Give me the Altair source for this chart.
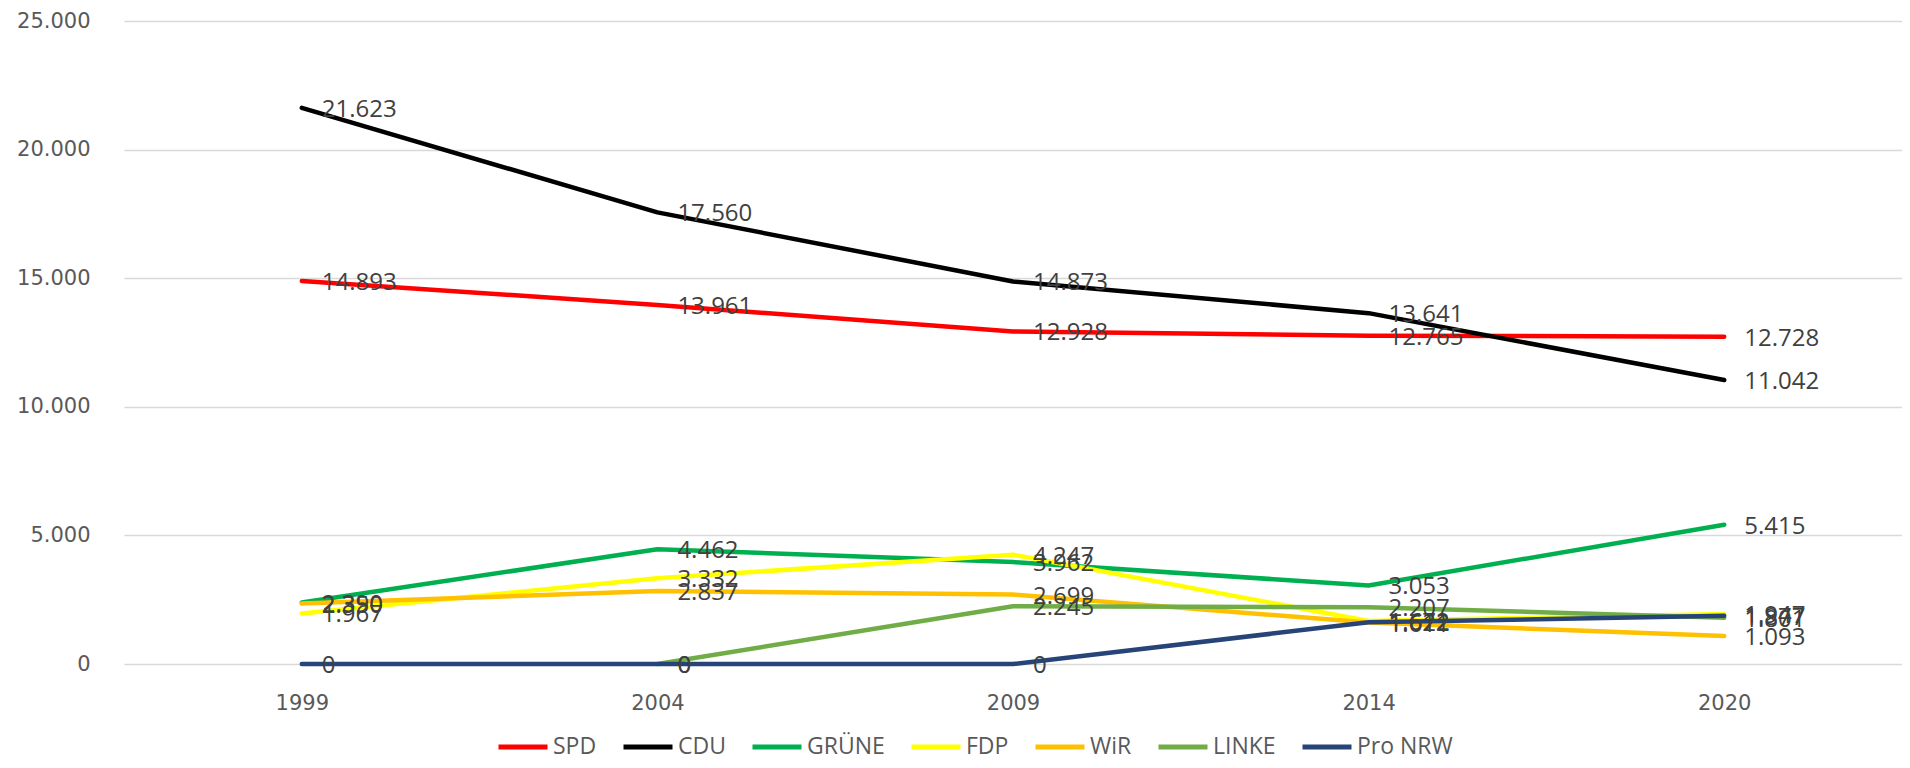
import altair as alt
import pandas as pd

years = ["1999", "2004", "2009", "2014", "2020"]
parties = ["SPD", "CDU", "GRÜNE", "FDP", "WiR", "LINKE", "Pro NRW"]
colors = ["#FF0000", "#000000", "#00B050", "#FFFF00", "#FFC000", "#70AD47", "#264478"]

spd = [14893, 13961, 12928, 12765, 12728]
cdu = [21623, 17560, 14873, 13641, 11042]
gruene = [2390, 4462, 3962, 3053, 5415]
fdp = [1967, 3332, 4247, 1672, 1947]
wir = [2350, 2837, 2699, 1611, 1093]
linke = [None, 0, 2245, 2207, 1801]
pro_nrw = [0, 0, 0, 1622, 1877]

y_ticks = [0, 5000, 10000, 15000, 20000, 25000]

series = {
    "SPD": spd, "CDU": cdu, "GRÜNE": gruene, "FDP": fdp,
    "WiR": wir, "LINKE": linke, "Pro NRW": pro_nrw,
}

rows = []
for p in parties:
    for yr, v in zip(years, series[p]):
        if v is not None:
            rows.append({"year": yr, "party": p, "value": v})
df = pd.DataFrame(rows)

de_fmt = "replace(format(datum.value, ','), ',', '.')"

x = alt.X(
    "year:O",
    scale=alt.Scale(type="point", padding=0.5, domain=years),
    axis=alt.Axis(title=None, labelAngle=0, domain=False, ticks=False, grid=False,
                  labelFont="DejaVu Sans", labelFontSize=21, labelColor="#595959",
                  labelPadding=28),
)
y = alt.Y(
    "value:Q",
    scale=alt.Scale(domain=[0, 25000], nice=False),
    axis=alt.Axis(title=None, values=y_ticks, labelExpr=de_fmt, domain=False, ticks=False,
                  grid=True, gridColor="#D9D9D9", gridWidth=1.5,
                  labelFont="DejaVu Sans", labelFontSize=21, labelColor="#595959",
                  labelPadding=34),
)

lines = alt.Chart(df).mark_line(strokeWidth=4.5, strokeCap="round", strokeJoin="round").encode(
    x=x,
    y=y,
    color=alt.Color(
        "party:N",
        scale=alt.Scale(domain=parties, range=colors),
        sort=parties,
        legend=alt.Legend(
            title=None, orient="none", legendX=372, legendY=699, direction="horizontal",
            symbolType="stroke", symbolSize=2401, symbolStrokeWidth=5,
            labelFont="Open Sans", labelFontSize=23,
            labelColor="#595959", labelOffset=3, columnPadding=16,
        ),
    ),
)

labels = alt.Chart(df).transform_calculate(
    label=de_fmt
).mark_text(
    align="left", baseline="middle", dx=20, dy=2,
    font="Open Sans", fontSize=24, color="#404040",
).encode(x=x, y=y, text="label:N")

chart = alt.layer(lines, labels).properties(
    width=1778,
    height=643,
    autosize=alt.AutoSizeParams(type="none"),
    padding={"left": 116, "top": 13, "right": 0, "bottom": 96},
).configure_view(stroke=None)

chart.save("out.html", embed_options={"renderer": "svg", "actions": False})
